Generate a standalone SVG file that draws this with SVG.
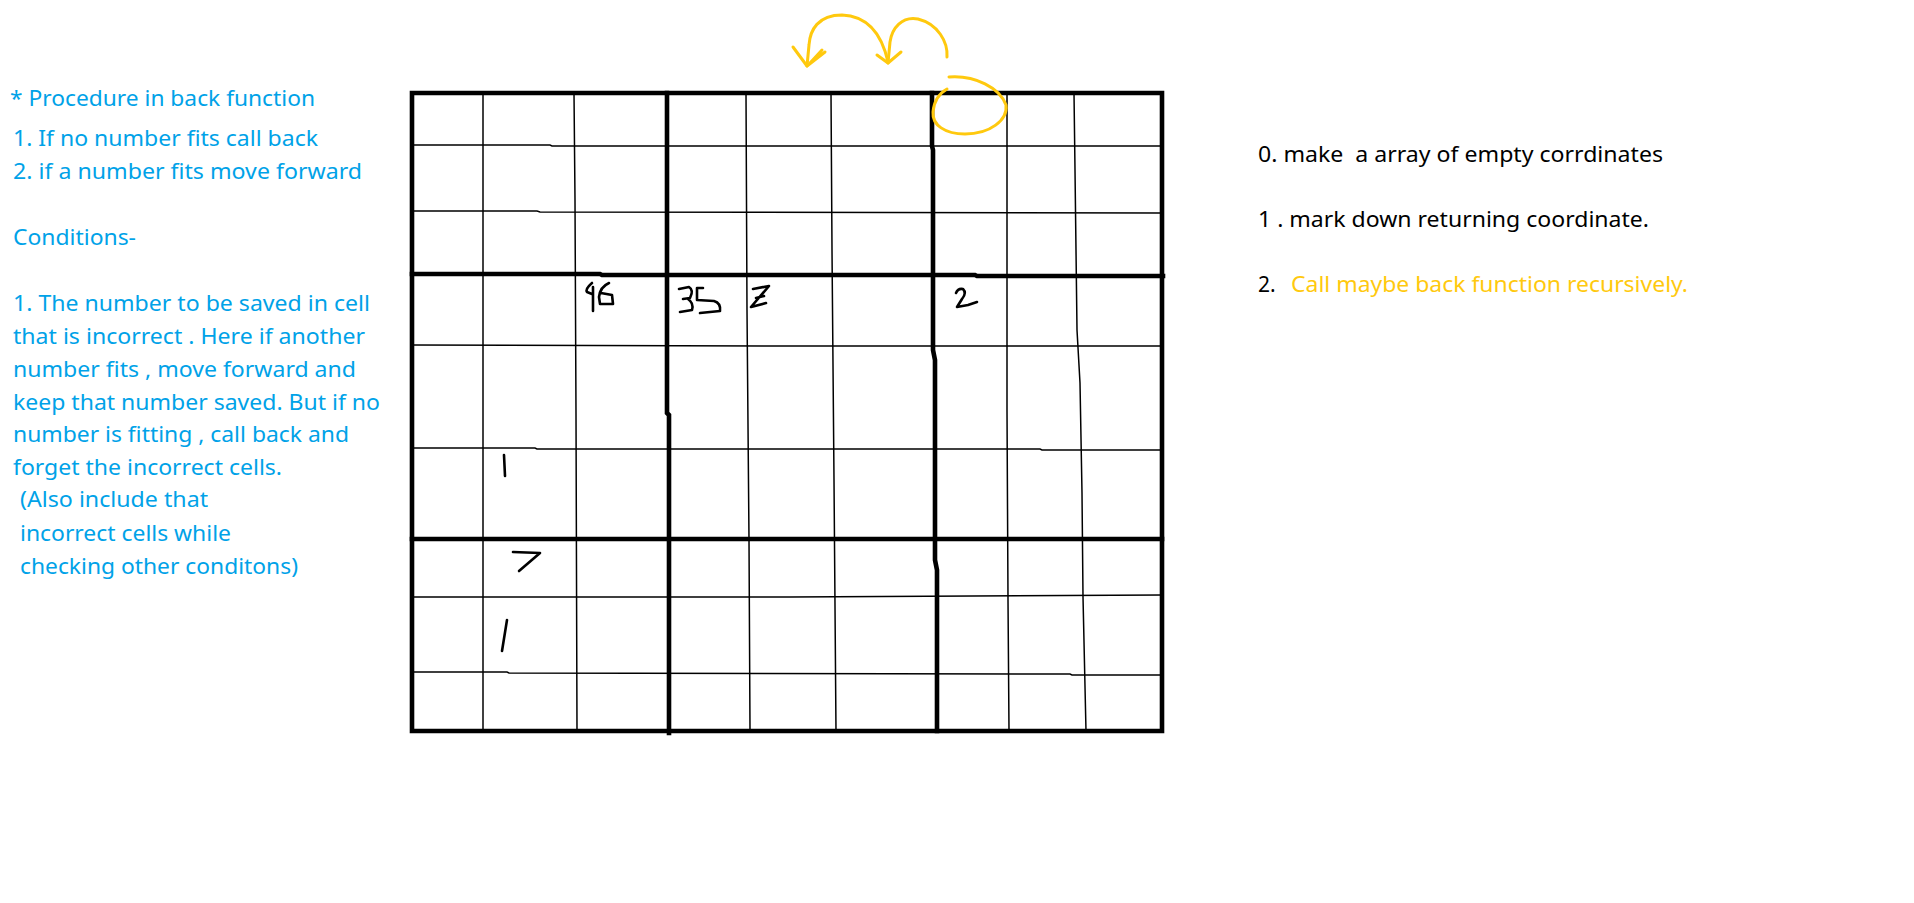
<svg xmlns="http://www.w3.org/2000/svg" width="1914" height="903" viewBox="0 0 1914 903">
<style>
.bg{fill:#ffffff}
.note{font-family:"Noto Sans","Open Sans","Liberation Sans",sans-serif;font-size:21px}
.blue{fill:#00A2E8}
.black{fill:#000000}
.gold{fill:#FFC90E}
.thick{fill:none;stroke:#000;stroke-width:4.6;stroke-linecap:square;stroke-linejoin:miter}
.thin{fill:none;stroke:#000;stroke-width:1.5}
.digit{fill:none;stroke:#000;stroke-width:2.6;stroke-linecap:round;stroke-linejoin:round}
.ink{fill:none;stroke:#FFC90E;stroke-width:3;stroke-linecap:round;stroke-linejoin:round}
</style>
<rect class="bg" x="0" y="0" width="1914" height="903"/>

<g id="procedure-notes">
<text class="note blue" x="10" y="106" textLength="305" lengthAdjust="spacingAndGlyphs">* Procedure in back function</text>
<text class="note blue" x="13" y="146" textLength="305" lengthAdjust="spacingAndGlyphs">1. If no number fits call back</text>
<text class="note blue" x="13" y="179" textLength="349" lengthAdjust="spacingAndGlyphs">2. if a number fits move forward</text>
<text class="note blue" x="13" y="245" textLength="123" lengthAdjust="spacingAndGlyphs">Conditions-</text>
<text class="note blue" x="13" y="311" textLength="357" lengthAdjust="spacingAndGlyphs">1. The number to be saved in cell</text>
<text class="note blue" x="13" y="344" textLength="352" lengthAdjust="spacingAndGlyphs">that is incorrect . Here if another</text>
<text class="note blue" x="13" y="377" textLength="343" lengthAdjust="spacingAndGlyphs">number fits , move forward and</text>
<text class="note blue" x="13" y="410" textLength="367" lengthAdjust="spacingAndGlyphs">keep that number saved. But if no</text>
<text class="note blue" x="13" y="442" textLength="336" lengthAdjust="spacingAndGlyphs">number is fitting , call back and</text>
<text class="note blue" x="13" y="475" textLength="269" lengthAdjust="spacingAndGlyphs">forget the incorrect cells.</text>
<text class="note blue" x="20" y="507" textLength="188" lengthAdjust="spacingAndGlyphs">(Also include that</text>
<text class="note blue" x="20" y="541" textLength="211" lengthAdjust="spacingAndGlyphs">incorrect cells while</text>
<text class="note blue" x="20" y="574" textLength="278" lengthAdjust="spacingAndGlyphs">checking other conditons)</text>
</g>

<g id="steps-notes">
<text class="note black" x="1258" y="162" textLength="405" lengthAdjust="spacingAndGlyphs" xml:space="preserve" style="white-space:pre">0. make  a array of empty corrdinates</text>
<text class="note black" x="1258" y="227" textLength="391" lengthAdjust="spacingAndGlyphs">1 . mark down returning coordinate.</text>
<text class="note black" x="1258" y="292">2.</text>
<text class="note gold" x="1291" y="292" textLength="397" lengthAdjust="spacingAndGlyphs">Call maybe back function recursively.</text>
</g>

<g id="sudoku-grid">
<g id="grid-thin-lines">
<path class="thin" d="M483,93 L483,731"/>
<path class="thin" d="M574,93 L575,200 L576,415 L577,731"/>
<path class="thin" d="M746,93 L747,310 L749,540 L750,731"/>
<path class="thin" d="M831,93 L832,250 L834,480 L836,731"/>
<path class="thin" d="M1007,93 L1007,410 L1008,600 L1009,731"/>
<path class="thin" d="M1074,93 L1075,170 L1077,330 L1080,383 L1082,493 L1083,597 L1086,731"/>
<path class="thin" d="M412,145 L550,145 L552,146 L1162,146"/>
<path class="thin" d="M412,211 L537,211 L540,212 L1162,213"/>
<path class="thin" d="M412,345 L790,346 L1162,346"/>
<path class="thin" d="M412,448 L535,448 L537,449 L1040,449 L1042,450 L1162,450"/>
<path class="thin" d="M412,597 L790,597 L1162,595"/>
<path class="thin" d="M412,672 L507,672 L509,673 L1070,674 L1072,675 L1162,675"/>
</g>
<g id="grid-thick-lines">
<path class="thick" d="M667,93 L667,413 L669,415 L669,733"/>
<path class="thick" d="M932,93 L932,146 L933,150 L933,350 L935,360 L935,560 L937,570 L937,731"/>
<path class="thick" d="M412,274 L600,274 L602,275 L975,275 L977,276 L1163,276"/>
<path class="thick" d="M412,539 L1162,539"/>
<path class="thick" d="M412,93 L1162,93 L1162,731 L412,731 Z"/>
</g>
</g>

<g id="cell-digits">
<path class="digit" d="M592,283 Q585,289 587,292 L592,294 M593,287 L593,311"/>
<path class="digit" d="M609,283 Q600,287 599,297 L600,304 L613,304 L612,295 L601,293"/>
<path class="digit" d="M679,289 L689,287 Q694,290 690,298 L683,299 M688,299 Q694,303 692,310 L680,312"/>
<path class="digit" d="M703,288 L697,288 L697,300 L714,301 Q721,303 720,311 L700,313"/>
<path class="digit" d="M753,289 L769,286 L751,307 L766,303 M756,298 L764,296"/>
<path class="digit" d="M956,293 Q958,288 963,289 Q967,293 962,299 L957,307 L968,305 L977,302"/>
<path class="digit" d="M504,455 L505,476"/>
<path class="digit" d="M513,552 L540,553 L519,571"/>
<path class="digit" d="M507,620 L502,651"/>
</g>

<g id="backtrack-annotation">
<path class="ink" d="M888,62 C882,35 868,16 842,15 C818,15 810,30 809,45 L807,66"/>
<path class="ink" d="M793,47 L807,66 L825,52 M822,50 L810,63"/>
<path class="ink" d="M947,57 C948,42 938,24 918,19 C902,16 892,28 890,42 L888,63"/>
<path class="ink" d="M877,55 L888,63 L901,52"/>
<path class="ink" d="M949,77 C975,75 1000,88 1006,105 C1008,120 990,134 965,134 C945,134 932,125 933,112 C934,100 940,93 947,89"/>
</g>
</svg>
